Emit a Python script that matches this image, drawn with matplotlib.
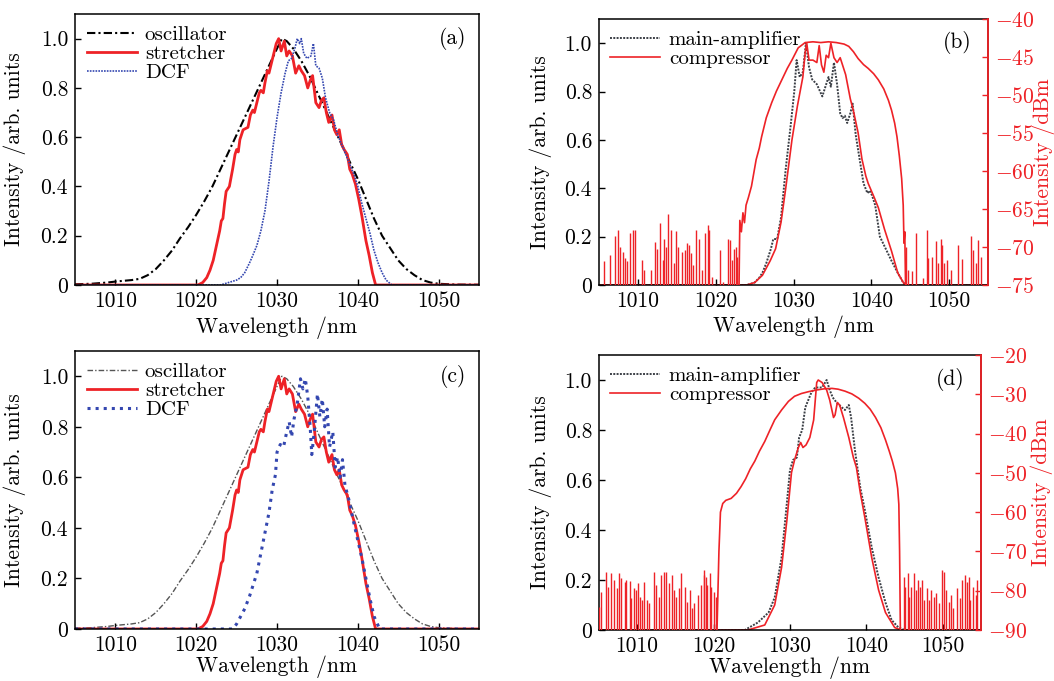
import matplotlib
matplotlib.use('Agg')
import matplotlib.pyplot as plt
from matplotlib.ticker import FuncFormatter

plt.rcParams['font.family'] = ['cmr10', 'DejaVu Serif']
plt.rcParams['mathtext.fontset'] = 'cm'
plt.rcParams['axes.unicode_minus'] = False

RED = '#ee2227'
BLUE = '#3447b0'

# ---------------- data: panel (a) / (c), intensity arb. units ----------------
osc_lam = [1005, 1007, 1009, 1010, 1011, 1012, 1013, 1014, 1015, 1016, 1017, 1018, 1019,
           1020, 1021, 1022, 1023, 1024, 1025, 1026, 1027, 1028, 1029, 1030, 1030.6,
           1031.2, 1032, 1033, 1034, 1035, 1036, 1037, 1038, 1039, 1040, 1041, 1042,
           1043, 1044, 1045, 1046, 1047, 1048, 1049, 1050, 1052, 1055]
osc_int = [0.003, 0.005, 0.01, 0.014, 0.017, 0.02, 0.025, 0.04, 0.065, 0.10, 0.14, 0.19, 0.235,
           0.285, 0.34, 0.40, 0.47, 0.54, 0.61, 0.68, 0.75, 0.82, 0.89, 0.96, 1.0,
           0.99, 0.96, 0.91, 0.85, 0.78, 0.71, 0.64, 0.57, 0.50, 0.43, 0.35, 0.27,
           0.20, 0.15, 0.10, 0.065, 0.04, 0.02, 0.01, 0.005, 0.002, 0.001]

str_lam = [1005, 1020.2, 1020.8, 1021.3, 1021.7, 1022.1, 1022.5, 1022.9, 1023.1, 1023.3, 1023.5,
           1023.7, 1024.1, 1024.5, 1024.8, 1025.0, 1025.2, 1025.4, 1025.8, 1026.4, 1026.7,
           1027.0, 1027.2, 1027.5, 1027.8, 1028.0, 1028.3, 1028.5, 1028.8, 1029.0, 1029.3,
           1029.6, 1029.9, 1030.2, 1030.5, 1030.9, 1031.2, 1031.5, 1031.9, 1032.3, 1032.7,
           1033.0, 1033.4, 1033.8, 1034.1, 1034.4, 1034.8, 1035.2, 1035.5, 1035.8, 1036.1,
           1036.4, 1036.8, 1037.1, 1037.4, 1037.7, 1038.0, 1038.3, 1038.7, 1039.0, 1039.3,
           1039.7, 1040.1, 1040.5, 1041.0, 1041.4, 1041.8, 1042.2, 1055]
str_int = [0, 0, 0.01, 0.03, 0.06, 0.10, 0.16, 0.22, 0.26, 0.27, 0.33,
           0.38, 0.40, 0.47, 0.53, 0.55, 0.54, 0.59, 0.63, 0.64, 0.69,
           0.71, 0.70, 0.74, 0.78, 0.79, 0.78, 0.82, 0.87, 0.86, 0.90,
           0.94, 0.98, 1.0, 0.95, 0.99, 0.93, 0.95, 0.93, 0.86, 0.89,
           0.87, 0.85, 0.80, 0.83, 0.85, 0.74, 0.72, 0.75, 0.76, 0.70,
           0.66, 0.69, 0.63, 0.61, 0.63, 0.57, 0.55, 0.53, 0.47, 0.45,
           0.41, 0.35, 0.28, 0.18, 0.12, 0.05, 0, 0]

dcf_a_lam = [1005, 1023.0, 1024, 1025, 1025.5, 1026, 1026.6, 1027, 1027.5, 1028, 1028.5, 1029,
             1029.5, 1030, 1030.5, 1031, 1031.4, 1031.8, 1032.2, 1032.5, 1032.8, 1033, 1033.3,
             1033.7, 1034.2, 1034.5, 1034.8, 1035.2, 1035.6, 1036, 1036.5, 1037, 1037.5, 1038,
             1038.5, 1039, 1039.5, 1040, 1040.5, 1041, 1041.5, 1042, 1042.5, 1043, 1043.5,
             1044.2, 1055]
dcf_a_int = [0, 0, 0.01, 0.02, 0.03, 0.05, 0.09, 0.12, 0.16, 0.22, 0.30, 0.42,
             0.56, 0.68, 0.78, 0.86, 0.91, 0.92, 0.96, 1.0, 0.98, 1.0, 0.94,
             0.92, 0.93, 0.98, 0.89, 0.88, 0.84, 0.76, 0.70, 0.67, 0.61, 0.57,
             0.53, 0.49, 0.45, 0.40, 0.33, 0.27, 0.21, 0.14, 0.09, 0.05, 0.02,
             0, 0]

dcf_c_lam = [1005, 1024.5, 1025, 1025.5, 1026, 1026.6, 1027, 1027.5, 1028, 1028.5, 1029, 1029.4,
             1029.8, 1030, 1030.4, 1030.8, 1031.2, 1031.5, 1031.8, 1032.1, 1032.5, 1032.9,
             1033.2, 1033.5, 1033.8, 1034.1, 1034.3, 1034.6, 1035.0, 1035.3, 1035.6, 1035.9,
             1036.2, 1036.5, 1036.9, 1037.2, 1037.5, 1037.8, 1038.1, 1038.4, 1038.9, 1039.5,
             1040, 1040.5, 1041, 1041.5, 1042, 1042.7, 1055]
dcf_c_int = [0, 0, 0.02, 0.05, 0.08, 0.13, 0.17, 0.22, 0.30, 0.38, 0.46, 0.55,
             0.61, 0.70, 0.73, 0.72, 0.78, 0.82, 0.76, 0.83, 0.89, 0.99,
             0.95, 0.99, 0.92, 0.80, 0.69, 0.78, 0.93, 0.84, 0.91, 0.80,
             0.87, 0.72, 0.78, 0.64, 0.68, 0.60, 0.67, 0.57, 0.51, 0.42,
             0.35, 0.28, 0.20, 0.12, 0.05, 0, 0]

# ---------------- data: panel (b) ----------------
amp_b_lam = [1005, 1024, 1025, 1025.6, 1026, 1026.5, 1027.1, 1027.4, 1027.9, 1028.4, 1029, 1029.6,
             1030.1, 1030.4, 1030.8, 1031.2, 1031.6, 1032.0, 1032.4, 1033, 1033.7, 1034.1,
             1034.5, 1034.8, 1035.2, 1035.6, 1036.0, 1036.3, 1036.6, 1036.9, 1037.3, 1037.6,
             1038, 1038.5, 1039.0, 1039.5, 1039.8, 1040.1, 1040.5, 1041.1, 1041.7, 1042.6,
             1043.4, 1044.1, 1044.5, 1055]
amp_b_int = [0, 0, 0.01, 0.03, 0.05, 0.09, 0.15, 0.19, 0.19, 0.28, 0.48, 0.65,
             0.80, 0.93, 0.86, 0.88, 1.0, 0.90, 0.85, 0.83, 0.78, 0.82,
             0.86, 0.82, 0.92, 0.83, 0.71, 0.69, 0.70, 0.67, 0.71, 0.75,
             0.62, 0.52, 0.42, 0.38, 0.39, 0.37, 0.33, 0.20, 0.16, 0.10,
             0.05, 0.01, 0, 0]

cmp_b_lam = [1005, 1024, 1025, 1026, 1026.5, 1027, 1027.7, 1028.4, 1029, 1029.8, 1030.5, 1031.2,
             1031.5, 1031.7, 1032.0, 1032.5, 1033, 1033.3, 1033.6, 1033.9, 1034.2, 1034.5,
             1034.8, 1035.2, 1035.6, 1036.0, 1036.3, 1036.7, 1037.3, 1037.7, 1038.3, 1038.8,
             1039.3, 1039.6, 1040.0, 1040.4, 1040.9, 1041.7, 1042.6, 1043.4, 1044.3, 1055]
cmp_b_int = [0, 0, 0.01, 0.04, 0.07, 0.10, 0.15, 0.26, 0.40, 0.60, 0.74, 0.86,
             0.96, 1.0, 0.93, 0.93, 0.92, 0.99, 0.91, 0.88, 0.95, 0.94,
             1.0, 0.94, 0.92, 0.94, 0.91, 0.87, 0.77, 0.72, 0.63, 0.52,
             0.45, 0.42, 0.39, 0.36, 0.32, 0.23, 0.14, 0.05, 0, 0]

# compressor spectrum in dBm (right axis)
cmp_b_dbm_lam = [1023.0, 1023.1, 1023.3, 1023.5, 1023.7, 1023.9, 1024.2, 1024.6, 1025.2, 1025.6,
                 1025.9, 1026.5, 1027.2, 1027.8, 1028.5, 1029.2, 1029.8, 1030.6, 1031.5, 1032.5,
                 1033.5, 1034.5, 1035.5, 1036.5, 1037.1, 1037.7, 1038.3, 1039, 1039.6, 1040.3,
                 1040.9, 1041.6, 1042.2, 1042.6, 1043.0, 1043.3, 1043.6, 1043.9, 1044.1, 1044.2,
                 1044.3, 1044.4]
cmp_b_dbm = [-75, -66.5, -68, -65.5, -66.8, -64.5, -63.5, -62, -58.5, -57,
             -55.5, -53, -51, -49.5, -48, -46.5, -45.4, -43.8, -43.1, -43.0,
             -43.1, -43.0, -43.1, -43.3, -43.6, -44.3, -45.2, -46, -46.5, -47.2,
             -48.0, -49.2, -50.7, -52, -53.7, -55.5, -58, -61, -64.5, -69.5,
             -68, -75]

# noise floor spikes (peak dBm)
noise_b_lam = [1005.6, 1006.45, 1007.0, 1007.5, 1007.7, 1008.1, 1008.4, 1008.6, 1009.0, 1009.4,
               1009.6, 1010.5, 1010.8, 1011.7, 1012.2, 1012.4, 1012.8, 1013.2, 1013.4, 1013.6,
               1013.9, 1014.2, 1014.6, 1014.9, 1015.2, 1015.7, 1016.1, 1016.3, 1016.6, 1016.8,
               1017.1, 1017.5, 1017.9, 1018.2, 1018.6, 1019.0, 1019.2, 1019.5, 1020.5, 1021.0,
               1021.6, 1021.8, 1022.1, 1022.3, 1022.6, 1022.8,
               1044.4, 1044.7, 1045.2, 1045.8, 1046.7, 1047.1, 1047.3, 1047.8, 1048.3, 1048.6,
               1048.9, 1049.1, 1049.4, 1049.7, 1050.3, 1051.1, 1051.6, 1052.8, 1053.1, 1053.4,
               1053.7, 1054.1]
noise_b_dbm = [-71.9, -71.0, -68.6, -67.8, -70.0, -70.6, -71.5, -71.9, -68.2, -67.7,
               -67.8, -71.7, -73.0, -73.0, -69.3, -70.2, -66.9, -71.7, -68.9, -70.0,
               -65.6, -67.8, -72.1, -67.9, -70.0, -70.6, -70.4, -69.5, -69.7, -70.8,
               -72.4, -67.8, -68.9, -73.0, -68.2, -67.1, -67.8, -73.9, -70.4, -74.6,
               -68.9, -69.1, -71.7, -70.2, -70.0, -71.3,
               -70.0, -73.0, -73.2, -68.2, -74.1, -67.7, -71.5, -71.3, -69.2, -72.1,
               -69.0, -69.7, -72.1, -71.7, -73.0, -69.7, -71.6, -68.6, -70.4, -72.1,
               -69.1, -71.3]

# ---------------- data: panel (d) ----------------
amp_d_lam = [1005, 1024.1, 1025.8, 1027.2, 1028.0, 1028.9, 1029.6, 1030.0, 1030.4, 1030.9, 1031.2,
             1031.6, 1032.0, 1032.4, 1032.8, 1033.3, 1033.7, 1034.2, 1034.6, 1034.8, 1035.2,
             1035.6, 1036.1, 1036.8, 1037.2, 1037.7, 1038.0, 1038.5, 1039.2, 1039.8, 1040.7,
             1041.6, 1042.5, 1043.3, 1044.2, 1045, 1055]
amp_d_int = [0, 0, 0.03, 0.07, 0.13, 0.29, 0.51, 0.64, 0.68, 0.69, 0.77,
             0.80, 0.89, 0.92, 0.95, 0.97, 0.97, 0.97, 0.99, 1.0, 0.96,
             0.93, 0.91, 0.89, 0.88, 0.90, 0.85, 0.72, 0.57, 0.48, 0.33,
             0.21, 0.11, 0.04, 0.01, 0, 0]

cmp_d_lam = [1005, 1024.5, 1026.7, 1028.0, 1028.9, 1029.6, 1030.2, 1030.6, 1031.1, 1031.4, 1031.7,
             1032.1, 1032.6, 1033.1, 1033.5, 1033.7, 1034.2, 1034.8, 1035.2, 1035.7, 1035.9,
             1036.2, 1036.5, 1037.0, 1037.7, 1038.3, 1038.7, 1039.2, 1039.8, 1040.7, 1041.6,
             1042.5, 1043.7, 1044.5, 1055]
cmp_d_int = [0, 0, 0.02, 0.10, 0.25, 0.44, 0.63, 0.68, 0.73, 0.75, 0.73,
             0.74, 0.77, 0.84, 0.99, 1.0, 0.99, 0.96, 0.92, 0.85, 0.86,
             0.91, 0.90, 0.85, 0.77, 0.69, 0.65, 0.55, 0.45, 0.29, 0.16,
             0.07, 0.01, 0, 0]

cmp_d_dbm_lam = [1020.45, 1020.7, 1020.9, 1021.2, 1021.6, 1022.3, 1023.0, 1023.6, 1024.2, 1024.8,
                 1025.4, 1026.0, 1026.7, 1027.4, 1028.0, 1028.9, 1029.8, 1030.6, 1031.5, 1032.5,
                 1033.5, 1034.5, 1035.5, 1036.3, 1037.2, 1038.1, 1039.0, 1039.8, 1040.5, 1041.2,
                 1041.9, 1042.5, 1043.0, 1043.4, 1043.8, 1044.1, 1044.25, 1044.35, 1044.45]
cmp_d_dbm = [-90, -70, -60, -57.8, -57.0, -56.5, -55.2, -53.5, -51.5, -49.0,
             -47.0, -44.5, -42.0, -39.0, -36.5, -34.0, -31.8, -30.5, -29.8, -29.3,
             -28.9, -28.6, -28.5, -28.7, -29.2, -29.9, -31.0, -32.3, -33.8, -35.9,
             -38.5, -41.6, -44.5, -47, -50, -54, -58, -70, -90]

noise_d_lam = [1005.0, 1005.3, 1005.9, 1006.2, 1006.6, 1006.9, 1007.3, 1007.6, 1007.9, 1008.4,
               1008.6, 1009.0, 1009.2, 1009.6, 1009.8, 1010.1, 1010.4, 1010.6, 1010.9, 1011.3,
               1011.6, 1012.2, 1012.4, 1012.8, 1013.1, 1013.5, 1013.8, 1014.2, 1014.5, 1014.8,
               1015.1, 1015.5, 1015.8, 1016.2, 1016.5, 1016.9, 1017.2, 1017.5, 1018.0, 1018.3,
               1018.7, 1018.8, 1019.0, 1019.2, 1019.5, 1019.7, 1020.0, 1020.3,
               1044.9, 1045.1, 1045.4, 1045.6, 1045.9, 1046.2, 1046.5, 1046.7, 1047.0, 1047.3,
               1047.6, 1047.9, 1048.2, 1048.5, 1048.8, 1049.1, 1049.5, 1049.9, 1050.1, 1050.4,
               1050.8, 1051.1, 1051.4, 1051.9, 1052.2, 1052.5, 1052.9, 1053.2, 1053.4, 1053.6,
               1053.9, 1054.3, 1054.5]
noise_d_dbm = [-84.1, -80.3, -75.2, -79.0, -75.6, -77.3, -79.4, -75.6, -76.8, -77.7,
               -77.3, -77.6, -81.9, -79.4, -79.9, -78.1, -81.6, -82.4, -77.7, -82.4,
               -83.2, -75.2, -78.6, -81.6, -76.0, -75.2, -75.2, -78.1, -76.0, -79.9,
               -81.6, -79.4, -75.6, -79.0, -82.8, -79.9, -84.5, -83.2, -81.1, -78.6,
               -74.7, -76.0, -76.4, -78.6, -75.6, -79.0, -80.3, -81.6,
               -76.4, -79.0, -75.6, -81.6, -79.0, -75.6, -79.9, -77.3, -79.0, -77.3,
               -82.4, -79.4, -82.4, -79.9, -81.6, -80.7, -83.2, -74.7, -75.2, -79.9,
               -82.8, -81.1, -84.5, -79.4, -81.9, -77.3, -76.0, -77.7, -76.4, -82.4,
               -79.0, -81.1, -77.3]

x_ticks = [1010, 1020, 1030, 1040, 1050]
y_ticks = [0, 0.2, 0.4, 0.6, 0.8, 1.0]
dbm_ticks_b = [-75, -70, -65, -60, -55, -50, -45, -40]
dbm_ticks_d = [-90, -80, -70, -60, -50, -40, -30, -20]

FS = 15.5
DASHDOT = (4, 1.5, 1, 1.5)
FINE_DOT = (1, 0.7)

fig = plt.figure(figsize=(10.54, 6.81), dpi=100)


def base_axes(rect, letter, letter_x, xlabel_y):
    ax = fig.add_axes(rect)
    ax.set_xlim(1005, 1055)
    ax.set_ylim(0, 1.1)
    ax.set_xticks(x_ticks)
    ax.set_yticks(y_ticks)
    ax.yaxis.set_major_formatter(FuncFormatter(lambda v, p: '0' if v == 0 else f'{v:.1f}'))
    ax.tick_params(direction='in', length=4, width=1, labelsize=FS, pad=5)
    for s in ax.spines.values():
        s.set_linewidth(1.1)
    ax.set_xlabel('Wavelength /nm', fontsize=FS)
    ax.set_ylabel('Intensity /arb. units', fontsize=FS)
    ax.xaxis.set_label_coords(0.5, xlabel_y)
    ax.yaxis.set_label_coords(-0.122, 0.5)
    ax.text(letter_x, 0.91, letter, transform=ax.transAxes, ha='right', va='center', fontsize=FS)
    return ax


def add_dbm_axis(ax, ticks, lo, hi, label_x):
    axr = ax.twinx()
    axr.set_ylim(lo, hi)
    axr.set_yticks(ticks)
    axr.set_yticklabels([f'${t}$' for t in ticks])
    axr.tick_params(direction='in', length=4, width=1, labelsize=FS, pad=5,
                    colors=RED)
    axr.spines['right'].set_color(RED)
    axr.spines['right'].set_linewidth(1.3)
    for s in ['left', 'top', 'bottom']:
        axr.spines[s].set_visible(False)
    axr.set_ylabel('Intensity /dBm', color=RED, fontsize=FS)
    axr.yaxis.set_label_coords(label_x, 0.5)
    return axr


leg_kw = dict(loc='upper left', frameon=False, fontsize=FS - 0.5, handlelength=2.4,
              handletextpad=0.4, labelspacing=0.02, borderaxespad=0.2,
              borderpad=0.35)

# (a)
ax = base_axes([0.0712, 0.5815, 0.3833, 0.3979], '(a)', 0.968, -0.115)
ax.plot(osc_lam, osc_int, color='black', ls=(0, DASHDOT), lw=1.5, label='oscillator')
ax.plot(str_lam, str_int, color=RED, lw=2.0, label='stretcher')
ax.plot(dcf_a_lam, dcf_a_int, color=BLUE, ls=(0, FINE_DOT), lw=1.2, label='DCF')
ax.legend(**leg_kw)

# (c)
ax = base_axes([0.0712, 0.0764, 0.3833, 0.4082], '(c)', 0.968, -0.095)
ax.plot(osc_lam, osc_int, color='#555555', ls=(0, DASHDOT), lw=1.0, label='oscillator')
ax.plot(str_lam, str_int, color=RED, lw=2.0, label='stretcher')
ax.plot(dcf_c_lam, dcf_c_int, color=BLUE, ls=':', lw=2.2, label='DCF')
ax.legend(**leg_kw)

# (b)
ax = base_axes([0.5683, 0.5815, 0.3691, 0.3906], '(b)', 0.958, -0.115)
axr = add_dbm_axis(ax, dbm_ticks_b, -75, -40, 1.115)
axr.vlines(noise_b_lam, -76, noise_b_dbm, color=RED, lw=1.0)
axr.plot(cmp_b_dbm_lam, cmp_b_dbm, color=RED, lw=1.2)
la, = ax.plot(amp_b_lam, amp_b_int, color='#3b3f46', ls=(0, FINE_DOT), lw=1.4, label='main-amplifier')
lc, = ax.plot(cmp_b_lam, cmp_b_int, color=RED, lw=1.2, label='compressor')
axr.legend(handles=[la, lc], **leg_kw)

# (d)
ax = base_axes([0.5683, 0.0749, 0.3624, 0.4038], '(d)', 0.958, -0.095)
axr = add_dbm_axis(ax, dbm_ticks_d, -90, -20, 1.13)
axr.vlines(noise_d_lam, -91, noise_d_dbm, color=RED, lw=1.0)
axr.plot(cmp_d_dbm_lam, cmp_d_dbm, color=RED, lw=1.2)
la, = ax.plot(amp_d_lam, amp_d_int, color='#3b3f46', ls=(0, FINE_DOT), lw=1.4, label='main-amplifier')
lc, = ax.plot(cmp_d_lam, cmp_d_int, color=RED, lw=1.2, label='compressor')
axr.legend(handles=[la, lc], **leg_kw)

fig.savefig('out.png', dpi=100)
